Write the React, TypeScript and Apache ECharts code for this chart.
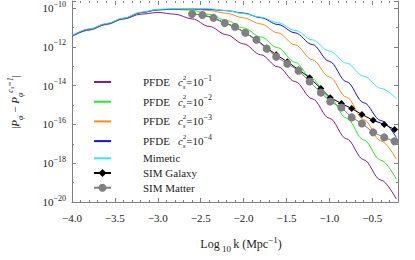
import React, { useEffect, useRef } from "react";
import * as echarts from "echarts";

// log10 k grid for the model curves
const curveK = [-4.0, -3.8, -3.6, -3.4, -3.2, -3.0, -2.8, -2.6, -2.4, -2.2, -2.0, -1.8, -1.6, -1.4, -1.2, -1.0, -0.8, -0.6, -0.4, -0.22];
// log10 |P - P(cs=1)| values
const pfde1 = [-11.47, -11.14, -10.85, -10.57, -10.32, -10.23, -10.32, -10.56, -10.95, -11.38, -11.85, -12.41, -13.03, -13.79, -14.68, -15.68, -16.74, -17.82, -18.87, -19.85];
const pfde2 = [-11.44, -11.1, -10.82, -10.54, -10.24, -10.1, -10.07, -10.12, -10.33, -10.64, -11.03, -11.49, -12.05, -12.8, -13.66, -14.6, -15.68, -16.8, -17.85, -18.82];
const pfde3 = [-11.44, -11.1, -10.82, -10.54, -10.24, -10.1, -10.06, -10.06, -10.13, -10.27, -10.51, -10.82, -11.28, -11.9, -12.66, -13.55, -14.6, -15.75, -16.85, -17.79];
const pfde4 = [-11.44, -11.1, -10.82, -10.54, -10.24, -10.09, -10.05, -10.04, -10.07, -10.14, -10.26, -10.5, -10.85, -11.28, -11.88, -12.75, -13.8, -14.88, -15.8, -16.67];
const mimetic = [-11.42, -11.08, -10.8, -10.52, -10.22, -10.07, -10.03, -10.02, -10.04, -10.13, -10.29, -10.47, -10.76, -11.15, -11.64, -12.22, -12.84, -13.52, -14.14, -14.67];

// simulation points
const simK = [-2.6, -2.48, -2.35, -2.22, -2.1, -1.98, -1.85, -1.73, -1.62, -1.49, -1.36, -1.23, -1.1, -0.99, -0.86, -0.74, -0.62, -0.49, -0.36, -0.24];
const simGalaxy = [-10.31, -10.36, -10.51, -10.77, -10.97, -11.28, -11.64, -12.05, -12.41, -12.77, -13.18, -13.59, -14.15, -14.62, -14.92, -15.18, -15.49, -15.79, -16.0, -16.26];
const simMatter = [-10.31, -10.36, -10.51, -10.77, -10.97, -11.28, -11.64, -12.1, -12.51, -12.87, -13.23, -13.79, -14.36, -14.82, -15.13, -15.64, -15.95, -16.41, -16.67, -16.87];

const seriesNames = ["PFDE cs2=10^-1", "PFDE cs2=10^-2", "PFDE cs2=10^-3", "PFDE cs2=10^-4", "Mimetic", "SIM Galaxy", "SIM Matter"];
const pfdeExponents = ["\u22121", "\u22122", "\u22123", "\u22124"];
const seriesColors = ["#8a1a8e", "#22ee22", "#ff8a10", "#1010ee", "#30e8f0", "#000000", "#808080"];

const SERIF = "'Liberation Serif', 'DejaVu Serif', serif";
const TEXT = "#222";
const AXIS = "#808080";

function legendLabel(name: string): string {
  const i = seriesNames.indexOf(name);
  if (i >= 0 && i < 4) {
    return `{g| }{t|PFDE}{h| }{i|c}{sb|s}{sp|2}{t|=10}{sx|${pfdeExponents[i]}}`;
  }
  return `{g| }{t|${name}}`;
}

function fmtX(v: number): string {
  if (Math.abs(v * 2 - Math.round(v * 2)) > 1e-6) return "";
  if (v > -0.3) return "";
  return "\u2212" + Math.abs(v).toFixed(1);
}

function fmtY(v: number): string {
  const r = Math.round(v);
  if (Math.abs(v - r) > 1e-6 || r % 2 !== 0) return "";
  return `{b|10}{s|\u2212${-r}}`;
}

export default function App() {
  const ref = useRef<HTMLDivElement>(null);

  useEffect(() => {
    if (!ref.current) return;
    const chart = echarts.init(ref.current, null, { renderer: "svg" });
    const curves = [pfde1, pfde2, pfde3, pfde4, mimetic];
    const curveSeries = curves.map((vals, i) => ({
      name: seriesNames[i],
      type: "line",
      data: curveK.map((k, j) => [k, vals[j]]),
      symbol: "none",
      showSymbol: false,
      smooth: 0.35,
      smoothMonotone: "x",
      lineStyle: { width: 1, color: seriesColors[i] },
      itemStyle: { color: seriesColors[i] },
      silent: true,
    }));
    const galaxy = {
      name: seriesNames[5],
      type: "line",
      data: simK.map((k, j) => [k, simGalaxy[j]]),
      symbol: "diamond",
      symbolSize: 7,
      showAllSymbol: true,
      lineStyle: { width: 1, color: "#000" },
      itemStyle: { color: "#000" },
      silent: true,
    };
    const matter = {
      name: seriesNames[6],
      type: "line",
      data: simK.map((k, j) => [k, simMatter[j]]),
      symbol: "circle",
      symbolSize: 8,
      showAllSymbol: true,
      lineStyle: { width: 1, color: "#808080" },
      itemStyle: { color: "#808080" },
      silent: true,
    };

    const xCommon = {
      type: "value",
      min: -4,
      max: -0.2,
      interval: 0.5,
      splitLine: { show: false },
      axisTick: { show: true, inside: true, length: 4, lineStyle: { color: AXIS } },
      minorTick: { show: true, splitNumber: 5, length: 2, lineStyle: { color: AXIS } },
    };
    const yCommon = {
      type: "value",
      min: -20,
      max: -9.64,
      interval: 2,
      splitLine: { show: false },
      axisTick: { show: true, inside: true, length: 4, lineStyle: { color: AXIS } },
      minorTick: { show: true, splitNumber: 2, length: 2, lineStyle: { color: AXIS } },
    };

    chart.setOption({
      animation: false,
      grid: { left: 72, right: 17, top: 0, bottom: 58, containLabel: false },
      xAxis: [
        {
          ...xCommon,
          position: "bottom",
          axisLine: { show: true, lineStyle: { color: AXIS, width: 1 } },
          axisLabel: {
            formatter: fmtX,
            color: TEXT,
            fontFamily: SERIF,
            fontSize: 11,
            margin: 10,
            showMaxLabel: false,
          },
        },
        {
          ...xCommon,
          position: "top",
          axisLine: { show: false },
          axisLabel: { show: false },
        },
      ],
      yAxis: [
        {
          ...yCommon,
          position: "left",
          axisLine: { show: true, lineStyle: { color: AXIS, width: 1 } },
          axisLabel: {
            formatter: fmtY,
            color: TEXT,
            margin: 6,
            rich: {
              b: { fontFamily: SERIF, fontSize: 11, lineHeight: 16, color: TEXT },
              s: { fontFamily: SERIF, fontSize: 8, verticalAlign: "top", color: TEXT },
            },
          },
        },
        {
          ...yCommon,
          position: "right",
          axisLine: { show: true, lineStyle: { color: AXIS, width: 1 } },
          axisLabel: { show: false },
        },
      ],
      legend: {
        show: true,
        orient: "vertical",
        left: 93,
        top: 74,
        padding: 0,
        itemWidth: 17,
        itemHeight: 10,
        itemGap: 3.7,
        selectedMode: false,
        data: seriesNames.map((n, i) => (i < 5 ? { name: n, itemStyle: { opacity: 0 } } : { name: n })),
        formatter: legendLabel,
        textStyle: {
          color: TEXT,
          fontFamily: SERIF,
          fontSize: 11,
          rich: {
            g: { width: 27, fontSize: 11, lineHeight: 16 },
            h: { width: 8, fontSize: 11, lineHeight: 16 },
            t: { fontFamily: SERIF, fontSize: 11, lineHeight: 16, color: TEXT },
            i: { fontFamily: SERIF, fontStyle: "italic", fontSize: 11, lineHeight: 16, color: TEXT },
            sb: { fontFamily: SERIF, fontStyle: "italic", fontSize: 7, verticalAlign: "bottom", width: 0, align: "left", color: TEXT },
            sp: { fontFamily: SERIF, fontSize: 7, verticalAlign: "top", color: TEXT },
            sx: { fontFamily: SERIF, fontSize: 8, verticalAlign: "top", color: TEXT },
          },
        },
      },
      graphic: [
        {
          type: "text",
          x: 15,
          y: 102,
          rotation: Math.PI / 2,
          silent: true,
          style: {
            text: "{b||}{i|P}{sb|\u03c6}{b| \u2212 }{i|P}{sb|\u03c6}{sp|c}{sps|s}{sp|=1}{b||}",
            align: "center",
            verticalAlign: "middle",
            textAlign: "center",
            textVerticalAlign: "middle",
            fill: TEXT,
            rich: {
              b: { fontFamily: SERIF, fontSize: 11, lineHeight: 18, fill: TEXT },
              i: { fontFamily: SERIF, fontStyle: "italic", fontSize: 11, lineHeight: 18, fill: TEXT },
              sb: { fontFamily: SERIF, fontStyle: "italic", fontSize: 8, verticalAlign: "bottom", fill: TEXT },
              sp: { fontFamily: SERIF, fontStyle: "italic", fontSize: 8, verticalAlign: "top", fill: TEXT },
              sps: { fontFamily: SERIF, fontStyle: "italic", fontSize: 6, verticalAlign: "top", padding: [3, 0, 0, 0], fill: TEXT },
            },
          },
        },
        {
          type: "text",
          x: 241,
          y: 244,
          silent: true,
          style: {
            text: "{t|Log}{sb| 10 }{t|k (Mpc}{sp|\u22121}{t|)}",
            align: "center",
            verticalAlign: "middle",
            textAlign: "center",
            textVerticalAlign: "middle",
            fill: TEXT,
            rich: {
              t: { fontFamily: SERIF, fontSize: 12, lineHeight: 18, fill: TEXT },
              sb: { fontFamily: SERIF, fontSize: 9, verticalAlign: "bottom", fill: TEXT },
              sp: { fontFamily: SERIF, fontSize: 9, verticalAlign: "top", fill: TEXT },
            },
          },
        },
      ],
      tooltip: { show: false },
      series: [...curveSeries, galaxy, matter],
    });
    return () => chart.dispose();
  }, []);

  return <div ref={ref} style={{ position: "absolute", left: 0, top: 0, width: 415, height: 260 }} />;
}
